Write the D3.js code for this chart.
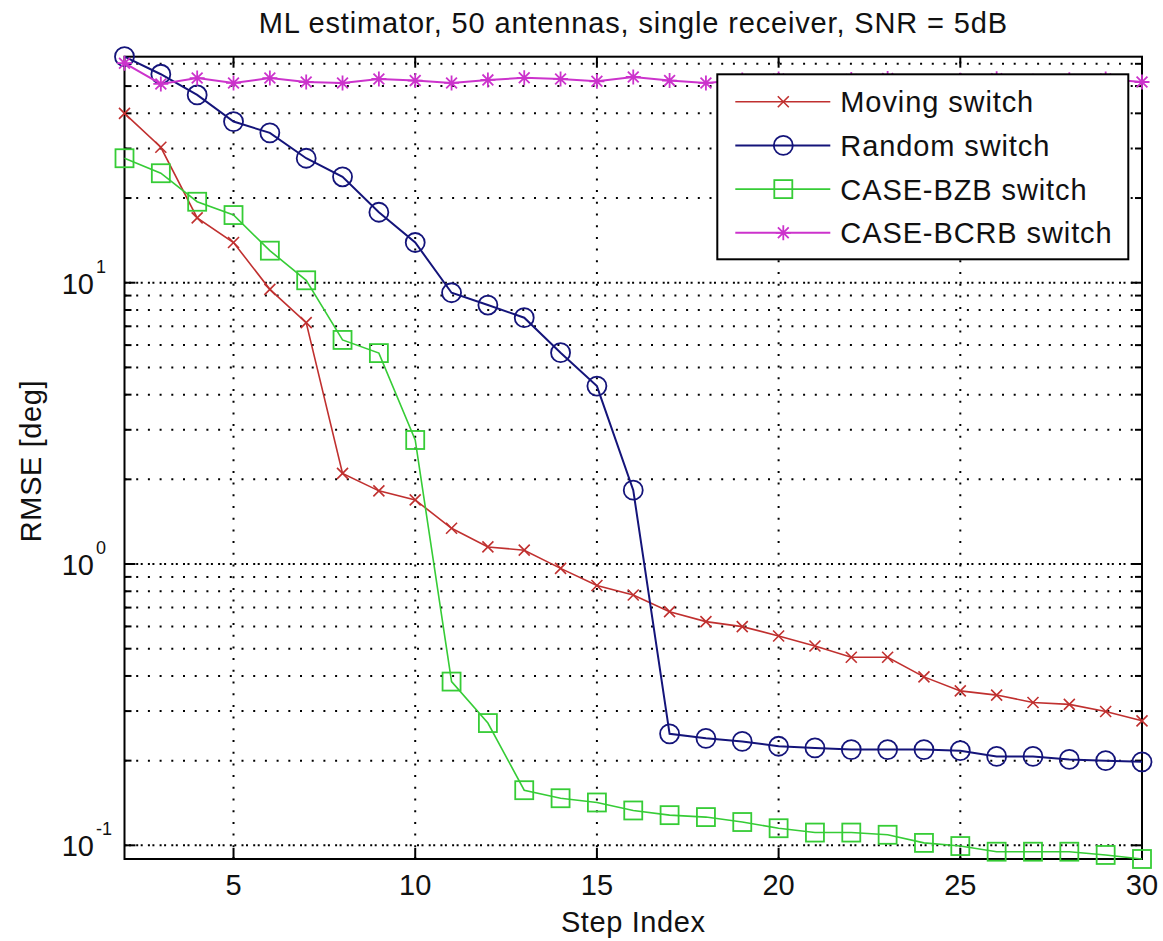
<!DOCTYPE html>
<html>
<head>
<meta charset="utf-8">
<script src="https://cdn.jsdelivr.net/npm/d3@7"></script>
<style>
  body { margin: 0; background: #fff; }
  text { font-family: "Liberation Sans", Arial, sans-serif; fill: #111; }
</style>
</head>
<body>
<div id="chart"></div>
<script>
// step index (x axis)
const steps = [2, 3, 4, 5, 6, 7, 8, 9, 10, 11, 12, 13, 14, 15, 16, 17, 18, 19, 20, 21, 22, 23, 24, 25, 26, 27, 28, 29, 30];

// RMSE [deg] per switch strategy
const movingSwitch = [40.0, 30.3, 17.0, 13.9, 9.47, 7.21, 2.10, 1.82, 1.69, 1.34, 1.15, 1.12, 0.965, 0.839, 0.776, 0.677, 0.624, 0.599, 0.555, 0.511, 0.466, 0.466, 0.397, 0.354, 0.342, 0.322, 0.317, 0.299, 0.277];
const randomSwitch = [63.6, 55.1, 46.5, 37.4, 34.1, 27.7, 23.8, 17.8, 13.9, 9.21, 8.33, 7.51, 5.64, 4.29, 1.83, 0.249, 0.240, 0.234, 0.225, 0.222, 0.219, 0.219, 0.219, 0.217, 0.207, 0.207, 0.202, 0.200, 0.198];
const bzbSwitch = [27.7, 24.5, 19.4, 17.4, 13.0, 10.2, 6.26, 5.62, 2.76, 0.382, 0.272, 0.157, 0.147, 0.142, 0.133, 0.128, 0.126, 0.121, 0.115, 0.111, 0.111, 0.109, 0.102, 0.0994, 0.0949, 0.0949, 0.0949, 0.0924, 0.0894];
const bcrbSwitch = [60.3, 50.9, 53.4, 51.3, 53.4, 51.7, 51.3, 53.0, 52.3, 51.3, 52.6, 53.5, 53.0, 52.0, 53.9, 52.3, 51.3, 52.6, 53.0, 51.9, 52.8, 53.2, 51.8, 52.4, 53.1, 52.0, 52.7, 53.0, 51.7];

const xTicks = [5, 10, 15, 20, 25, 30];
const yDecades = [0.1, 1, 10];
const yDecadeExp = ["-1", "0", "1"];

const seriesNames = ["Moving switch", "Random switch", "CASE-BZB switch", "CASE-BCRB switch"];

const width = 1163;
const height = 941;
const margin = { left: 124.5, right: 21, top: 56.7, bottom: 82 };

const series = [
    { name: seriesNames[0], values: movingSwitch, color: "#c0302f", marker: "x", lw: 1.6 },
    { name: seriesNames[1], values: randomSwitch, color: "#14147a", marker: "o", lw: 2 },
    { name: seriesNames[2], values: bzbSwitch, color: "#36cc36", marker: "s", lw: 1.6 },
    { name: seriesNames[3], values: bcrbSwitch, color: "#cc33cc", marker: "*", lw: 2 }
];

const allValues = [].concat(movingSwitch, randomSwitch, bzbSwitch, bcrbSwitch);

const x = d3.scaleLinear()
    .domain(d3.extent(steps))
    .range([margin.left, width - margin.right]);

const y = d3.scaleLog()
    .domain(d3.extent(allValues))
    .range([height - margin.bottom, margin.top]);

const svg = d3.select("#chart").append("svg")
    .attr("width", width)
    .attr("height", height);

const x0 = x.range()[0], x1 = x.range()[1];
const y0 = y.range()[0], y1 = y.range()[1];

// minor log ticks inside the domain
const [yMin, yMax] = y.domain();
const yMinor = [];
yDecades.forEach(dec => {
    for (let k = 2; k <= 9; k++) {
        const v = dec * k;
        if (v >= yMin && v <= yMax) yMinor.push(v);
    }
});
const yMajor = yDecades.filter(v => v >= yMin && v <= yMax);

// grid
const grid = svg.append("g").attr("stroke", "#000").attr("stroke-width", 2);

grid.selectAll("line.vgrid")
    .data(xTicks)
    .enter().append("line")
    .attr("x1", d => x(d)).attr("x2", d => x(d))
    .attr("y1", y0).attr("y2", y1)
    .attr("stroke-dasharray", "2,9.7");

grid.selectAll("line.hgrid")
    .data(yMinor.concat(yMajor))
    .enter().append("line")
    .attr("x1", x0).attr("x2", x1)
    .attr("y1", d => y(d)).attr("y2", d => y(d))
    .attr("stroke-dasharray", "2,9.7");

grid.selectAll("line.hgrid2")
    .data(yMajor)
    .enter().append("line")
    .attr("x1", x0).attr("x2", x1)
    .attr("y1", d => y(d)).attr("y2", d => y(d))
    .attr("stroke-dasharray", "2,9.7")
    .attr("stroke-dashoffset", -4.5);

// ticks (inside, on all four sides)
const ticks = svg.append("g").attr("stroke", "#000").attr("stroke-width", 2);
xTicks.forEach(t => {
    ticks.append("line").attr("x1", x(t)).attr("x2", x(t)).attr("y1", y0).attr("y2", y0 - 11);
    ticks.append("line").attr("x1", x(t)).attr("x2", x(t)).attr("y1", y1).attr("y2", y1 + 11);
});
yMajor.forEach(t => {
    ticks.append("line").attr("x1", x0).attr("x2", x0 + 11).attr("y1", y(t)).attr("y2", y(t));
    ticks.append("line").attr("x1", x1).attr("x2", x1 - 11).attr("y1", y(t)).attr("y2", y(t));
});
yMinor.forEach(t => {
    ticks.append("line").attr("x1", x0).attr("x2", x0 + 7).attr("y1", y(t)).attr("y2", y(t));
    ticks.append("line").attr("x1", x1).attr("x2", x1 - 7).attr("y1", y(t)).attr("y2", y(t));
});

// box
svg.append("rect")
    .attr("x", x0).attr("y", y1)
    .attr("width", x1 - x0).attr("height", y0 - y1)
    .attr("fill", "none").attr("stroke", "#000").attr("stroke-width", 2);

// tick labels
svg.append("g").selectAll("text")
    .data(xTicks)
    .enter().append("text")
    .attr("x", d => x(d))
    .attr("y", y0 + 36)
    .attr("text-anchor", "middle")
    .style("font-size", "29px")
    .text(d => d);

yMajor.forEach(t => {
    svg.append("text")
        .attr("x", 94).attr("y", y(t) + 11)
        .attr("text-anchor", "end")
        .style("font-size", "29px")
        .text("10");
    svg.append("text")
        .attr("x", 96).attr("y", y(t) - 10)
        .style("font-size", "18px")
        .text(yDecadeExp[yDecades.indexOf(t)]);
});

// markers
function drawMarker(g, type, cx, cy, color) {
    if (type === "o") {
        g.append("circle").attr("cx", cx).attr("cy", cy).attr("r", 9.5)
            .attr("fill", "none").attr("stroke", color).attr("stroke-width", 1.8);
    } else if (type === "s") {
        g.append("rect").attr("x", cx - 9).attr("y", cy - 9).attr("width", 18).attr("height", 18)
            .attr("fill", "none").attr("stroke", color).attr("stroke-width", 1.8);
    } else if (type === "x") {
        const s = 5.5;
        g.append("path").attr("d", `M${cx - s},${cy - s}L${cx + s},${cy + s}M${cx - s},${cy + s}L${cx + s},${cy - s}`)
            .attr("stroke", color).attr("stroke-width", 1.6);
    } else if (type === "*") {
        const s = 7.5, d = s * 0.72;
        g.append("path").attr("d",
            `M${cx - s},${cy}L${cx + s},${cy}M${cx},${cy - s}L${cx},${cy + s}` +
            `M${cx - d},${cy - d}L${cx + d},${cy + d}M${cx - d},${cy + d}L${cx + d},${cy - d}`)
            .attr("stroke", color).attr("stroke-width", 1.8);
    }
}

const line = d3.line()
    .x(d => x(d[0]))
    .y(d => y(d[1]));

series.forEach(s => {
    const pts = steps.map((st, i) => [st, s.values[i]]);
    const g = svg.append("g");
    g.append("path")
        .datum(pts)
        .attr("d", line)
        .attr("fill", "none")
        .attr("stroke", s.color)
        .attr("stroke-width", s.lw);
    pts.forEach(p => drawMarker(g, s.marker, x(p[0]), y(p[1]), s.color));
});

// legend
const legend = svg.append("g");
const lx = 717.3, ly = 74.3, lw = 411, lh = 185;
legend.append("rect")
    .attr("x", lx).attr("y", ly).attr("width", lw).attr("height", lh)
    .attr("fill", "#fff").attr("stroke", "#000").attr("stroke-width", 2);

series.forEach((s, i) => {
    const ry = ly + 27.4 + i * 43.7;
    legend.append("line")
        .attr("x1", lx + 18).attr("x2", lx + 113)
        .attr("y1", ry).attr("y2", ry)
        .attr("stroke", s.color).attr("stroke-width", s.lw);
    drawMarker(legend, s.marker, lx + 66, ry, s.color);
    legend.append("text")
        .attr("x", lx + 123).attr("y", ry + 10.5)
        .style("font-size", "29px")
        .style("letter-spacing", "0.9px")
        .text(s.name);
});

// titles
svg.append("text")
    .attr("x", (x0 + x1) / 2).attr("y", 33)
    .attr("text-anchor", "middle")
    .style("font-size", "29px")
    .style("letter-spacing", "0.85px")
    .text("ML estimator, 50 antennas, single receiver, SNR = 5dB");

svg.append("text")
    .attr("x", (x0 + x1) / 2).attr("y", 932)
    .attr("text-anchor", "middle")
    .style("font-size", "29px")
    .style("letter-spacing", "0.6px")
    .text("Step Index");

svg.append("text")
    .attr("transform", `translate(41, 461) rotate(-90)`)
    .attr("text-anchor", "middle")
    .style("font-size", "29px")
    .style("letter-spacing", "0.6px")
    .text("RMSE [deg]");
</script>
</body>
</html>
